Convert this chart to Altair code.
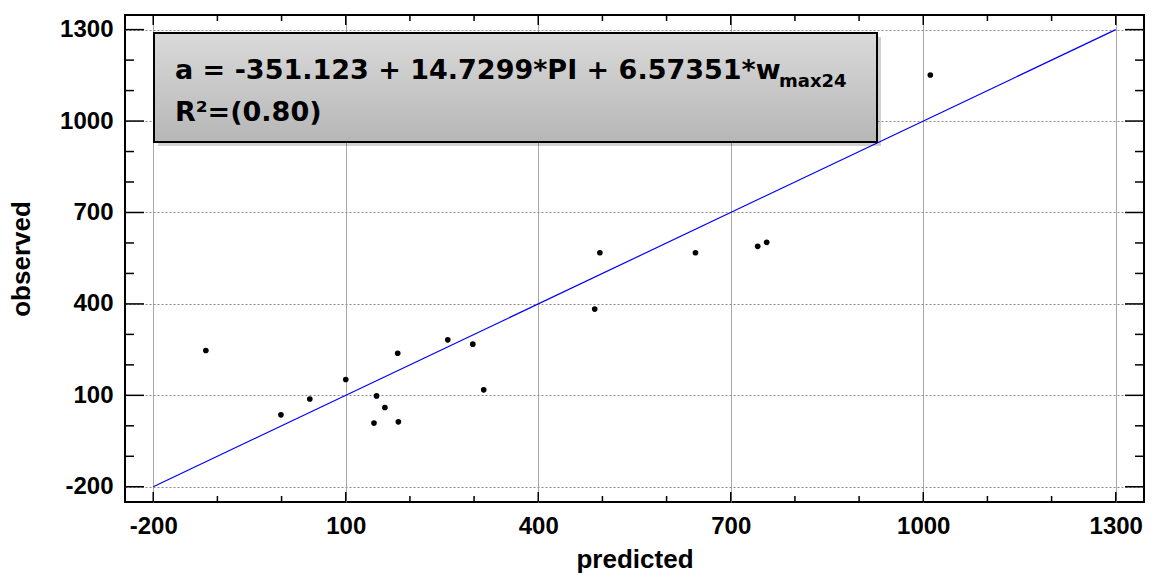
import altair as alt
import pandas as pd

# Observed vs predicted values
predicted = [-118, -1, 44, 100, 148, 161, 144, 182, 181, 259, 298, 315,
             496, 488, 645, 742, 756, 1011]
observed = [247, 36, 88, 152, 98, 60, 9, 13, 238, 282, 268, 118,
            568, 383, 568, 589, 602, 1151]

# Axis tick positions
major_ticks = [-200, 100, 400, 700, 1000, 1300]
minor_ticks = [-100, 0, 200, 300, 500, 600, 800, 900, 1100, 1200]

# Reference line (observed = predicted)
line_x = [-200, 1300]
line_y = [-200, 1300]

equation = "a = -351.123 + 14.7299*PI + 6.57351*w"
equation_sub = "max24"
r2_text = "R²=(0.80)"

W, H = 1019, 487
X_DOMAIN = [-244, 1344]
Y_DOMAIN = [-250, 1348]

xs = alt.Scale(domain=X_DOMAIN, nice=False, zero=False)
ys = alt.Scale(domain=Y_DOMAIN, nice=False, zero=False)

pts = pd.DataFrame({"predicted": predicted, "observed": observed})
ref = pd.DataFrame({"predicted": line_x, "observed": line_y})
majors = pd.DataFrame({"v": major_ticks})
minors = pd.DataFrame({"v": minor_ticks})

label_font = "Liberation Sans"
plain_label = "'' + datum.value"

x_axis = alt.Axis(values=major_ticks, grid=True, gridColor="#a8a8a8", gridWidth=1,
                  ticks=False, domain=False, labelFont=label_font, labelFontWeight="bold",
                  labelFontSize=24, labelColor="black", labelPadding=12, labelFlush=False,
                  labelOverlap=False, labelExpr=plain_label, title="predicted",
                  titleFont=label_font, titleFontWeight="bold", titleFontSize=26,
                  titleColor="black", titlePadding=8)
y_axis = alt.Axis(values=major_ticks, grid=True, gridColor="#8a8a8a", gridWidth=1,
                  gridDash=[2, 2], ticks=False, domain=False, labelFont=label_font,
                  labelFontWeight="bold", labelFontSize=24, labelColor="black",
                  labelPadding=12, labelFlush=False, labelOverlap=False,
                  labelExpr=plain_label, title="observed", titleFont=label_font,
                  titleFontWeight="bold", titleFontSize=26, titleColor="black",
                  titlePadding=25)

base_axes = alt.Chart(pts).mark_point(opacity=0).encode(
    x=alt.X("predicted:Q", scale=xs, axis=x_axis),
    y=alt.Y("observed:Q", scale=ys, axis=y_axis),
)

ref_line = alt.Chart(ref).mark_line(color="#0000ff", strokeWidth=1.2).encode(
    x=alt.X("predicted:Q", scale=xs),
    y=alt.Y("observed:Q", scale=ys),
)

dots = alt.Chart(pts).mark_circle(size=32, color="black", opacity=1).encode(
    x=alt.X("predicted:Q", scale=xs),
    y=alt.Y("observed:Q", scale=ys),
)


def yticks(df, length, right=False):
    x0, x1 = (W - length, W) if right else (0, length)
    return alt.Chart(df).mark_rule(color="black", strokeWidth=1.5).encode(
        y=alt.Y("v:Q", scale=ys), x=alt.value(x0), x2=alt.value(x1))


def xticks(df, length, top=False):
    y0, y1 = (0, length) if top else (H - length, H)
    return alt.Chart(df).mark_rule(color="black", strokeWidth=1.5).encode(
        x=alt.X("v:Q", scale=xs), y=alt.value(y0), y2=alt.value(y1))


tick_layers = [
    yticks(majors, 19), yticks(minors, 9),
    yticks(majors, 19, right=True), yticks(minors, 9, right=True),
    xticks(majors, 10), xticks(minors, 6),
    xticks(majors, 10, top=True), xticks(minors, 6, top=True),
]

# Equation box
box_df = pd.DataFrame({"k": [0]})
BX0, BX1, BY0, BY1 = 29, 752, 18, 127
shadow = alt.Chart(box_df).mark_rect(color="black", opacity=0.18).encode(
    x=alt.value(BX0 + 4), x2=alt.value(BX1 + 4), y=alt.value(BY0 + 4), y2=alt.value(BY1 + 4))
gradient = alt.Gradient(
    gradient="linear",
    stops=[alt.GradientStop(color="#dadada", offset=0),
           alt.GradientStop(color="#b6b6b6", offset=1)],
    x1=0, x2=0, y1=0, y2=1,
)
box = alt.Chart(box_df).mark_rect(fill=gradient, stroke="black", strokeWidth=2).encode(
    x=alt.value(BX0), x2=alt.value(BX1), y=alt.value(BY0), y2=alt.value(BY1))

txt_font = "DejaVu Sans"
eq_main = alt.Chart(box_df).mark_text(
    text=equation, font=txt_font, fontWeight="bold", fontSize=27, color="black",
    align="left", baseline="alphabetic").encode(x=alt.value(50), y=alt.value(64))
eq_sub = alt.Chart(box_df).mark_text(
    text=equation_sub, font=txt_font, fontWeight="bold", fontSize=18, color="black",
    align="left", baseline="alphabetic").encode(x=alt.value(654), y=alt.value(72))
r2 = alt.Chart(box_df).mark_text(
    text=r2_text, font=txt_font, fontWeight="bold", fontSize=27, color="black",
    align="left", baseline="alphabetic").encode(x=alt.value(50), y=alt.value(106))

chart = alt.layer(
    base_axes, ref_line, dots, *tick_layers, shadow, box, eq_main, eq_sub, r2
).properties(
    width=W, height=H,
    autosize=alt.AutoSizeParams(type="none"),
    padding={"left": 125, "top": 15, "right": 9, "bottom": 83},
    background="white",
).configure_view(stroke="black", strokeWidth=2)

chart.save("out.html", embed_options={"renderer": "svg", "actions": False})
